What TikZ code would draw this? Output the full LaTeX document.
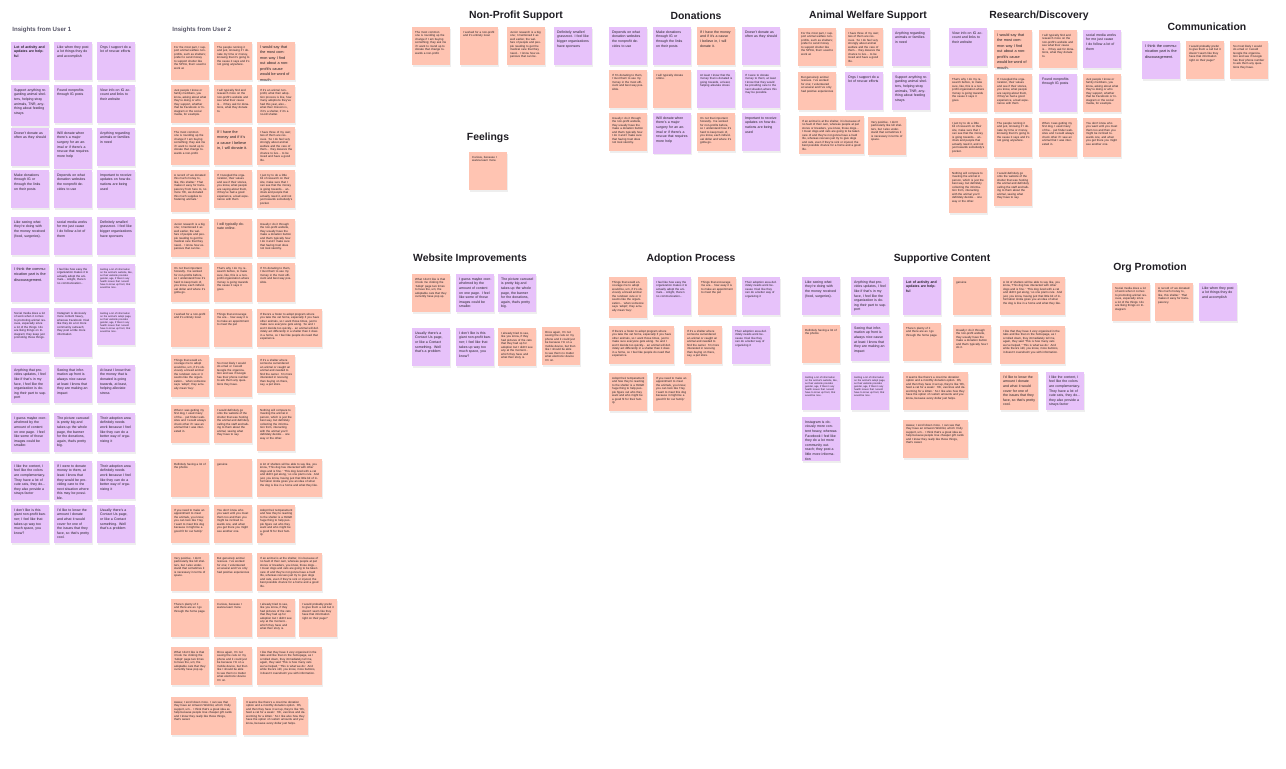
\documentclass[tikz,border=0pt]{standalone}
\usepackage{fontspec}
\setmainfont{Liberation Sans}
\usetikzlibrary{shadows}

\definecolor{lilac}{RGB}{231,194,250}
\definecolor{peach}{RGB}{255,196,178}
\definecolor{ink}{RGB}{32,30,36}
\definecolor{slate}{RGB}{88,86,104}

\tikzset{
  sticky/.style={anchor=north west, text width=16.2pt, inner xsep=1.4pt, inner ysep=1.5pt,
    text height=1.5pt, text depth=14.5pt, align=left, text=ink,
    drop shadow={shadow xshift=0.15pt, shadow yshift=-0.6pt, opacity=0.13}},
  tiny text/.style={font=\fontsize{1.25}{1.5}\selectfont},
  small text/.style={font=\fontsize{1.45}{1.75}\selectfont},
  mid text/.style={font=\fontsize{1.75}{2.3}\selectfont},
  big text/.style={font=\fontsize{1.9}{2.75}\selectfont},
  user1/.style={sticky, fill=lilac, mid text},
  user2/.style={sticky, fill=peach, small text},
  wide/.style={text width=29.7pt},
  heading/.style={font=\bfseries\fontsize{5.2}{6}\selectfont, text=ink},
  column head/.style={anchor=west, inner sep=0pt, font=\bfseries\fontsize{3.05}{3.6}\selectfont, text=slate},
}

\begin{document}
\begin{tikzpicture}[x = 0.5pt, y = -0.5pt]
  \path [use as bounding box, fill=white] (0,0) rectangle (1286,769);

  % interview notes, user 1
  \node [column head] (head1) at (12,30) {Insights from User 1};
  \node [user1, font=\bfseries\fontsize{1.75}{2.3}\selectfont] (a1) at (11,42) {Lot of activity and updates are helpful};
  \node [user1] (a2) at (54,42) {Like when they post a lot things they do and accomplish};
  \node [user1] (a3) at (97,42) {Orgs I support do a lot of rescue efforts};
  \node [user1, text depth=16pt] (a4) at (11,85) {Support anything regarding animal shelters, helping stray animals, TNR, anything about feeding strays};
  \node [user1] (a5) at (54,85) {Found nonprofits through IG posts};
  \node [user1] (a6) at (97,85) {View info on IG account and links to their website};
  \node [user1] (a7) at (11,128) {Doesn't donate as often as they should};
  \node [user1, text depth=15.6pt] (a8) at (54,128) {Will donate when there's a major surgery for an animal or if there's a rescue that requires more help};
  \node [user1] (a9) at (97,128) {Anything regarding animals or families in need};
  \node [user1] (a10) at (11,170) {Make donations through IG or through the links on their posts};
  \node [user1] (a11) at (54,170) {Depends on what donation websites the nonprofit decides to use};
  \node [user1] (a12) at (97,170) {Important to receive updates on how donations are being used};
  \node [user1] (a13) at (11,217) {Like seeing what they're doing with the money received (food, surgeries).};
  \node [user1] (a14) at (54,217) {social media works for me just cause I do follow a lot of them};
  \node [user1] (a15) at (97,217) {Definitely smaller/ grassroot. I feel like bigger organizations have sponsors};
  \node [user1, big text] (a16) at (11,264) {I think the communication part is the discouragement.};
  \node [user1, small text] (a17) at (54,264) {I feel like how easy the organization makes it to actually adopt the animals... Alright, there's no communication...};
  \node [user1, tiny text] (a18) at (97,264) {Getting a lot of information on the animal's website, like, as their website provides gender, age, if there's any health issues that I would have to know up front, that would be nice.};
  \node [user1, small text, text depth=17.5pt] (a19) at (11,308) {Social media does a lot of work when it comes to promoting animal rescues, especially since a lot of the things I do are liking things on Instagram; they keep just promoting those things.};
  \node [user1, small text, text depth=20pt] (a20) at (54,308) {Instagram is obviously more content heavy, whereas Facebook I feel like they do a lot more community outreach; they post a little more information};
  \node [user1, tiny text, text depth=14pt] (a21) at (97,308) {Getting a lot of information on the animal's adopt page, as their website provides gender, age, if there's any health issues that I would have to know up front, that would be nice.};
  \node [user1] (a22) at (11,365) {Anything that provides updates, I feel like if that's in my face, I feel like the organization is doing their part to support};
  \node [user1] (a23) at (54,365) {Seeing that information up front is always nice cause at least I know that they are making an impact};
  \node [user1] (a24) at (97,365) {At least I know that the money that is donated is going towards, at least, helping alleviate stress};
  \node [user1, text depth=15pt] (a25) at (11,413) {I guess maybe overwhelmed by the amount of content on one page. I feel like some of those images could be smaller.};
  \node [user1, text depth=15pt] (a26) at (54,413) {The picture carousel is pretty big and takes up the whole page, the banner for the donations, again, that's pretty big.};
  \node [user1, text depth=15pt] (a27) at (97,413) {Their adoption area definitely needs work because I feel like they can do a better way of organizing it};
  \node [user1, text depth=15pt] (a28) at (11,461) {I like the content, I feel like the colors are complementary. They have a lot of cute cats, they do... they also provide a strays factor};
  \node [user1, text depth=15pt] (a29) at (54,461) {If I were to donate money to them, at least I know that they would be providing care to the next situation where this may be possible.};
  \node [user1] (a30) at (97,461) {Their adoption area definitely needs work because I feel like they can do a better way of organizing it};
  \node [user1] (a31) at (11,505) {I don't like is this giant non-profit banner; I feel like that takes up way too much space, you know?};
  \node [user1] (a32) at (54,505) {I'd like to know the amount I donate and what it would cover for one of the issues that they face, so that's pretty cool.};
  \node [user1] (a33) at (97,505) {Usually there's a Contact Us page, or like a Contact something. Well that's a problem};

  % interview notes, user 2
  \node [column head] (head2) at (172,30) {Insights from User 2};
  \node [user2] (b1) at (171,42) {For the most part, I support animal welfare non-profits, such as shelters; prefer to send money to support shelter like the SPCA, that I used to work at.};
  \node [user2] (b2) at (214,42) {The people running it and just, knowing if I donate my time or money, knowing that it's going to the cause it says and it's not going anywhere.};
  \node [user2, big text] (b3) at (257,42) {I would say that the most common way I find out about a non-profit's cause would be word of mouth.};
  \node [user2] (b4) at (171,85) {Just people I know or family members, you know, asking about what they're doing or who they support, whether that be Facebook or Instagram or the social media, for example.};
  \node [user2] (b5) at (214,85) {I will typically find and research more on the non-profit's website and see what their cause is... if they ask for donations, what they donate to.};
  \node [user2] (b6) at (257,85) {If it's an animal non-profit, what their adoption process is like, how many adoptions they've had this year, also... what their mission is, if it's a shelter, if it's a no-kill shelter.};
  \node [user2] (b7) at (171,127) {The most common one is rounding up the change if I am buying something; they ask me if I want to round up to donate that change towards a non-profit.};
  \node [user2, big text] (b8) at (214,127) {If I have the money and if it's a cause I believe in, I will donate it.};
  \node [user2] (b9) at (257,127) {I have three of my own; two of them are rescues. So I do feel very strongly about animal welfare and the care of them... they deserve the chance to live... to be loved and have a good life.};
  \node [user2, text depth=16.5pt] (b10) at (171,170) {A record of `we donated this much money to, like, this shelter.' That makes it easy for transparency from here to, no more `Oh, we donated this much supplies to fostering animals.'};
  \node [user2] (b11) at (214,170) {If I Googled the organization, their values and see if their stories, you know, what people are saying about them, if they've had a good experience, a bad experience with them};
  \node [user2] (b12) at (257,170) {I just try to do a little bit of research on their site, make sure that I can see that the money is going towards... animals and people that actually need it, and not just towards somebody's pocket.};
  \node [user2] (b13) at (171,219) {Junior research is a big one; I mentioned it as well earlier, the welfare of people and people needing to get the medical care that they need... I know how expensive that can be.};
  \node [user2, mid text] (b14) at (214,219) {I will typically donate online.};
  \node [user2] (b15) at (257,219) {Usually I do it through the non-profit website, they usually have the make a donation button and that's typically how I do it and I make sure that having trust does not look sketchy.};
  \node [user2, text depth=15pt] (b16) at (171,263) {It's not that important honestly. I've worked for non-profits before, so I understand how it's hard to keep track of, you know, each individual dollar and where it's gotta go.};
  \node [user2, text depth=15pt] (b17) at (214,263) {That's why I do my research before, to make sure, like, this is a non-profit organization where money is going towards the cause it says it goes.};
  \node [user2, text depth=15pt] (b18) at (257,263) {If I'm donating to them, I trust them to use my money in the most efficient and best way possible.};
  \node [user2] (b19) at (171,309) {I worked for a non-profit and it's entirely local.};
  \node [user2] (b20) at (214,309) {Things that encourage me are... how easy it is to make an appointment to meet the pet};
  \node [user2, wide] (b21) at (257,309) {If there's a foster to adopt program where you take the cat home, especially if you have other animals, so I want those times, just to make sure everyone gets along. So and I won't decide too quickly... an animal will definitely act differently in a shelter than it does in a home, so I feel like people do need that experience.};
  \node [user2, text depth=16.5pt] (b22) at (171,355) {Things that would encourage me to adopt would be, um, if it's obviously a breed animal the rundown cute or it seems like the organization... when someone says `adopt', they actually mean `buy'.};
  \node [user2, text depth=15pt] (b23) at (214,358) {So most likely I would do email or I would Google the organization and see if Google has their phone number to ask them any questions they have.};
  \node [user2] (b24) at (257,355) {If it's a shelter where someone surrendered an animal or caught an animal and needed to find the owner. I'm more interested in rescuing than buying on there, say, a pet store.};
  \node [user2] (b25) at (171,405) {When I was getting my first dog, I used many of the... pet finder websites and I would always check other if I saw an animal that I was interested in.};
  \node [user2] (b26) at (214,405) {I would definitely go onto the website of the shelter that was hosting the animal and definitely calling the staff and talking to them about the animal, seeing what they have to say.};
  \node [user2, text depth=18.5pt] (b27) at (257,405) {Nothing will compare to meeting the animal in person, which is just the best way, but definitely collecting the information from, interacting with the animal you'll definitely decide... one way or the other.};
  \node [user2] (b28) at (171,459) {Definitely having a lot of the photos};
  \node [user2] (b29) at (214,459) {genuine};
  \node [user2, wide] (b30) at (257,459) {A lot of shelters will be able to say like, you know, `This dog has interacted with other dogs and is fine.' `This dog lived with a cat and didn't get along,' so one plan's rule. And just, you know, having just that little bit of information kinda gives you an idea of what the dog is like in a home and what they like.};
  \node [user2] (b31) at (171,505) {If you need to make an appointment to meet the animals, you know, you can look like `Hey, I want to meet this dog because it might be a good fit for our family.'};
  \node [user2] (b32) at (214,505) {You don't know who you want until you meet them too and then you might be inclined towards one, and when you get there you might see another one.};
  \node [user2] (b33) at (257,505) {Adopt their temperament and how they're reacting to the shelter is a HUGE huge thing to help people figure out who they want and who might be a good fit for their family.};
  \node [user2] (b34) at (171,553) {Very positive. I don't particularly like kill shelters, but I also understand that sometimes it is necessary in terms of space.};
  \node [user2] (b35) at (214,553) {But genuinely animal rescues. I've worked for one; I volunteered at several and I've only had positive experiences};
  \node [user2, wide] (b36) at (257,553) {If an animal is at the shelter, it is because of no fault of their own, whereas people at pet stores or breeders, you know, those dogs... I mean dogs and cats are going to be taken care of and they're not gonna have a hard life, whereas rescues just try to give dogs and cats, even if they're sick or injured, the best possible chance for a home and a good life.};
  \node [user2] (b37) at (171,599) {There's plenty of it and there are as I go through the home page.};
  \node [user2] (b38) at (214,599) {Curious, because I wanna learn more.};
  \node [user2] (b39) at (257,599) {I already tried to see, like you know, if they had pictures of the cats that they had up for adoption but I didn't see any at the moment... which they have and what their story is.};
  \node [user2] (b40) at (299,599) {I would probably prefer to give them a call but it doesn't seem like they have that information right on their page?};
  \node [user2] (b41) at (171,647) {What I don't like is that it took me clicking the `Adopt' page two times to have the, um, the adoptable cats that they currently have pop up.};
  \node [user2] (b42) at (214,647) {Once again, I'm not seeing the cats on my phone and it could just be because I'm on a mobile device, but then like I should be able to see them no matter what electronic device I'm on.};
  \node [user2, wide] (b43) at (257,647) {I like that they have it very organized in the tabs and like that on the homepage, as I scrolled down, they immediately tell me, again, they said `This is how many cats we've helped,' `This is what we do.' And while there's still, you know, more buttons, it doesn't overwhelm you with information.};
  \node [user2, wide] (b44) at (171,697) {Awww, I scroll down more. I can see that they have an Amazon Wishlist, which I fully support, um... I think that's a great idea as help because people love cheaper gift cards and I know they really like those things, that's sweet.};
  \node [user2, wide] (b45) at (243,697) {It seems like there's a one-time donation option and a monthly donation option. Oh, and then they have it set up, they're like `Oh, feed a cat for a week.' `Oh, vaccines and deworming for a kitten.' So I like also how they have the option of custom amounts and you know, because every dollar just helps.};

  % non-profit support
  \node [heading] (npsT) at (516,16) {Non-Profit Support};
  \node [user2] (nps1) at (412,27) {The most common one is rounding up the change if I am buying something; they ask me if I want to round up to donate that change towards a non-profit.};
  \node [user2] (nps2) at (460,27) {I worked for a non-profit and it's entirely local.};
  \node [user2] (nps3) at (507,27) {Junior research is a big one; I mentioned it as well earlier, the welfare of people and people needing to get the medical care that they need... I know how expensive that can be.};
  \node [user1] (nps4) at (554,27) {Definitely smaller/ grassroot. I feel like bigger organizations have sponsors};

  % feelings
  \node [heading] (feelT) at (488,138) {Feelings};
  \node [user2] (feel1) at (469,152) {Curious, because I wanna learn more.};

  % donations
  \node [heading] (donT) at (696,16) {Donations};
  \node [user1] (don1) at (609,27) {Depends on what donation websites the nonprofit decides to use};
  \node [user1] (don2) at (653,27) {Make donations through IG or through the links on their posts};
  \node [user2, mid text] (don3) at (697,27) {If I have the money and if it's a cause I believe in, I will donate it.};
  \node [user1] (don4) at (742,27) {Doesn't donate as often as they should};
  \node [user2] (don5) at (609,70) {If I'm donating to them, I trust them to use my money in the most efficient and best way possible.};
  \node [user2] (don6) at (653,70) {I will typically donate online.};
  \node [user1, small text] (don7) at (697,70) {At least I know that the money that is donated is going towards, at least, helping alleviate stress};
  \node [user1, small text] (don8) at (742,70) {If I were to donate money to them, at least I know that they would be providing care to the next situation where this may be possible.};
  \node [user2] (don9) at (609,113) {Usually I do it through the non-profit website, they usually have the make a donation button and that's typically how I do it and I make sure that having trust does not look sketchy.};
  \node [user1, text depth=15.6pt] (don10) at (653,113) {Will donate when there's a major surgery for an animal or if there's a rescue that requires more help};
  \node [user2] (don11) at (697,113) {It's not that important honestly. I've worked for non-profits before, so I understand how it's hard to keep track of, you know, each individual dollar and where it's gotta go.};
  \node [user1] (don12) at (742,113) {Important to receive updates on how donations are being used};

  % animal welfare support
  \node [heading] (awsT) at (868,16) {Animal Welfare Support};
  \node [user2] (aws1) at (798,28) {For the most part, I support animal welfare non-profits, such as shelters; prefer to send money to support shelter like the SPCA, that I used to work at.};
  \node [user2] (aws2) at (845,28) {I have three of my own; two of them are rescues. So I do feel very strongly about animal welfare and the care of them... they deserve the chance to live... to be loved and have a good life.};
  \node [user1] (aws3) at (892,28) {Anything regarding animals or families in need};
  \node [user2] (aws4) at (798,72) {But genuinely animal rescues. I've worked for one; I volunteered at several and I've only had positive experiences};
  \node [user1] (aws5) at (845,72) {Orgs I support do a lot of rescue efforts};
  \node [user1] (aws6) at (892,72) {Support anything regarding animal shelters, helping stray animals, TNR, anything about feeding strays};
  \node [user2, wide] (aws7) at (799,116) {If an animal is at the shelter, it is because of no fault of their own, whereas people at pet stores or breeders, you know, those dogs... I mean dogs and cats are going to be taken care of and they're not gonna have a hard life, whereas rescues just try to give dogs and cats, even if they're sick or injured, the best possible chance for a home and a good life.};
  \node [user2] (aws8) at (868,117) {Very positive. I don't particularly like kill shelters, but I also understand that sometimes it is necessary in terms of space.};

  % research and discovery
  \node [heading] (resT) at (1039,16) {Research/Discovery};
  \node [user1] (res1) at (949,28) {View info on IG account and links to their website};
  \node [user2, big text] (res2) at (994,30) {I would say that the most common way I find out about a non-profit's cause would be word of mouth.};
  \node [user2] (res3) at (1039,30) {I will typically find and research more on the non-profit's website and see what their cause is... if they ask for donations, what they donate to.};
  \node [user1] (res4) at (1083,30) {social media works for me just cause I do follow a lot of them};
  \node [user2] (res5) at (949,74) {That's why I do my research before, to make sure, like, this is a non-profit organization where money is going towards the cause it says it goes.};
  \node [user2] (res6) at (994,74) {If I Googled the organization, their values and see if their stories, you know, what people are saying about them, if they've had a good experience, a bad experience with them};
  \node [user1] (res7) at (1039,74) {Found nonprofits through IG posts};
  \node [user2] (res8) at (1083,74) {Just people I know or family members, you know, asking about what they're doing or who they support, whether that be Facebook or Instagram or the social media, for example.};
  \node [user2, text depth=15pt] (res9) at (949,118) {I just try to do a little bit of research on their site, make sure that I can see that the money is going towards... animals and people that actually need it, and not just towards somebody's pocket.};
  \node [user2, text depth=15pt] (res10) at (994,118) {The people running it and just, knowing if I donate my time or money, knowing that it's going to the cause it says and it's not going anywhere.};
  \node [user2, text depth=15pt] (res11) at (1039,118) {When I was getting my first dog, I used many of the... pet finder websites and I would always check other if I saw an animal that I was interested in.};
  \node [user2, text depth=15pt] (res12) at (1083,118) {You don't know who you want until you meet them too and then you might be inclined towards one, and when you get there you might see another one.};
  \node [user2, text depth=18pt] (res13) at (949,168) {Nothing will compare to meeting the animal in person, which is just the best way, but definitely collecting the information from, interacting with the animal you'll definitely decide... one way or the other.};
  \node [user2] (res14) at (994,168) {I would definitely go onto the website of the shelter that was hosting the animal and definitely calling the staff and talking to them about the animal, seeing what they have to say.};

  % communication
  \node [heading] (comT) at (1207,27) {Communication};
  \node [user1, big text] (com1) at (1142,41) {I think the communication part is the discouragement.};
  \node [user2] (com2) at (1186,41) {I would probably prefer to give them a call but it doesn't seem like they have that information right on their page?};
  \node [user2] (com3) at (1230,41) {So most likely I would do email or I would Google the organization and see if Google has their phone number to ask them any questions they have.};

  % website improvements
  \node [heading] (webT) at (470,259) {Website Improvements};
  \node [user2] (web1) at (412,274) {What I don't like is that it took me clicking the `Adopt' page two times to have the, um, the adoptable cats that they currently have pop up.};
  \node [user1] (web2) at (456,274) {I guess maybe overwhelmed by the amount of content on one page. I feel like some of those images could be smaller.};
  \node [user1] (web3) at (498,274) {The picture carousel is pretty big and takes up the whole page, the banner for the donations, again, that's pretty big.};
  \node [user1] (web4) at (412,328) {Usually there's a Contact Us page, or like a Contact something. Well that's a problem};
  \node [user1] (web5) at (456,328) {I don't like is this giant non-profit banner; I feel like that takes up way too much space, you know?};
  \node [user2] (web6) at (498,328) {I already tried to see, like you know, if they had pictures of the cats that they had up for adoption but I didn't see any at the moment... which they have and what their story is.};
  \node [user2] (web7) at (542,327) {Once again, I'm not seeing the cats on my phone and it could just be because I'm on a mobile device, but then like I should be able to see them no matter what electronic device I'm on.};

  % adoption process
  \node [heading] (adoT) at (691,259) {Adoption Process};
  \node [user2, text depth=16pt] (ado1) at (609,277) {Things that would encourage me to adopt would be, um, if it's obviously a breed animal the rundown cute or it seems like the organization... when someone says `adopt', they actually mean `buy'.};
  \node [user1, small text] (ado2) at (653,277) {I feel like how easy the organization makes it to actually adopt the animals... Alright, there's no communication...};
  \node [user2] (ado3) at (698,277) {Things that encourage me are... how easy it is to make an appointment to meet the pet};
  \node [user1, small text] (ado4) at (742,277) {Their adoption area definitely needs work because I feel like they can do a better way of organizing it};
  \node [user2, wide] (ado5) at (609,326) {If there's a foster to adopt program where you take the cat home, especially if you have other animals, so I want those times, just to make sure everyone gets along. So and I won't decide too quickly... an animal will definitely act differently in a shelter than it does in a home, so I feel like people do need that experience.};
  \node [user2] (ado6) at (684,326) {If it's a shelter where someone surrendered an animal or caught an animal and needed to find the owner. I'm more interested in rescuing than buying on there, say, a pet store.};
  \node [user1, small text] (ado7) at (732,326) {Their adoption area definitely needs work because I feel like they can do a better way of organizing it};
  \node [user2] (ado8) at (609,373) {Adopt their temperament and how they're reacting to the shelter is a HUGE huge thing to help people figure out who they want and who might be a good fit for their family.};
  \node [user2] (ado9) at (653,373) {If you need to make an appointment to meet the animals, you know, you can look like `Hey, I want to meet this dog because it might be a good fit for our family.'};

  % supportive content
  \node [heading] (supT) at (942,259) {Supportive Content};
  \node [user1] (sup1) at (802,277) {Like seeing what they're doing with the money received (food, surgeries).};
  \node [user1] (sup2) at (851,277) {Anything that provides updates, I feel like if that's in my face, I feel like the organization is doing their part to support};
  \node [user1, font=\bfseries\fontsize{1.75}{2.3}\selectfont] (sup3) at (903,277) {Lot of activity and updates are helpful};
  \node [user2] (sup4) at (953,277) {genuine};
  \node [user2, wide] (sup5) at (1000,277) {A lot of shelters will be able to say like, you know, `This dog has interacted with other dogs and is fine.' `This dog lived with a cat and didn't get along,' so one plan's rule. And just, you know, having just that little bit of information kinda gives you an idea of what the dog is like in a home and what they like.};
  \node [user2] (sup6) at (802,325) {Definitely having a lot of the photos};
  \node [user1] (sup7) at (851,323) {Seeing that information up front is always nice cause at least I know that they are making an impact};
  \node [user2] (sup8) at (903,323) {There's plenty of it and there are as I go through the home page.};
  \node [user2] (sup9) at (953,325) {Usually I do it through the non-profit website, they usually have the make a donation button and that's typically how I do it.};
  \node [user2, wide] (sup10) at (1000,326) {I like that they have it very organized in the tabs and like that on the homepage, as I scrolled down, they immediately tell me, again, they said `This is how many cats we've helped,' `This is what we do.' And while there's still, you know, more buttons, it doesn't overwhelm you with information.};
  \node [user1, tiny text] (sup11) at (802,372) {Getting a lot of information on the animal's website, like, as their website provides gender, age, if there's any health issues that I would have to know up front, that would be nice.};
  \node [user1, tiny text] (sup12) at (851,372) {Getting a lot of information on the animal's adopt page, as their website provides gender, age, if there's any health issues that I would have to know up front, that would be nice.};
  \node [user2, wide] (sup13) at (903,372) {It seems like there's a one-time donation option and a monthly donation option. Oh, and then they have it set up, they're like `Oh, feed a cat for a week.' `Oh, vaccines and deworming for a kitten.' So I like also how they have the option of custom amounts and you know, because every dollar just helps.};
  \node [user2, mid text] (sup14) at (1000,372) {I'd like to know the amount I donate and what it would cover for one of the issues that they face, so that's pretty cool.};
  \node [user1] (sup15) at (1046,372) {I like the content, I feel like the colors are complementary. They have a lot of cute cats, they do... they also provide a strays factor};
  \node [user1, text depth=17.5pt] (sup16) at (802,417) {Instagram is obviously more content heavy, whereas Facebook I feel like they do a lot more community outreach; they post a little more information};
  \node [user2, wide] (sup17) at (903,420) {Awww, I scroll down more. I can see that they have an Amazon Wishlist, which I fully support, um... I think that's a great idea as help because people love cheaper gift cards and I know they really like those things, that's sweet.};

  % org promotion
  \node [heading] (orgT) at (1150,268) {Org Promotion};
  \node [user2] (org1) at (1112,283) {Social media does a lot of work when it comes to promoting animal rescues, especially since a lot of the things I do are liking things on Instagram.};
  \node [user2] (org2) at (1155,283) {A record of `we donated this much money to, like, this shelter.' That makes it easy for transparency.};
  \node [user1] (org3) at (1199,283) {Like when they post a lot things they do and accomplish};
\end{tikzpicture}
\end{document}
